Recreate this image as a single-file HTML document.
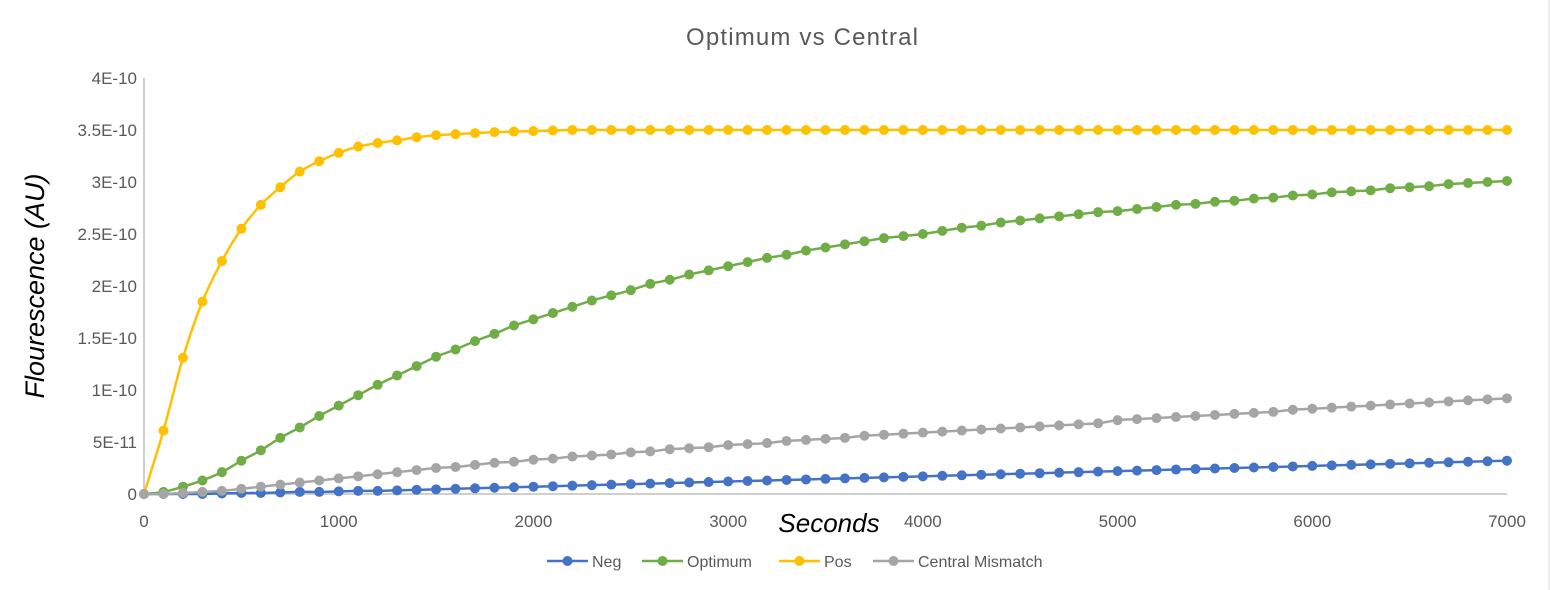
<!DOCTYPE html>
<html><head><meta charset="utf-8"><style>
body{margin:0;width:1550px;height:590px;background:#fff;overflow:hidden}
svg{display:block;font-family:"Liberation Sans",sans-serif}
</style></head><body>
<svg id="chart" width="1550" height="590">
<line x1="1549" y1="0" x2="1549" y2="590" stroke="#d9d9d9"/>
<text x="686" y="45" textLength="232" font-size="24" fill="#595959">Optimum vs Central</text>
<text transform="translate(44,286) rotate(-90)" text-anchor="middle" font-size="27" font-style="italic" fill="#000">Flourescence (AU)</text>
<text x="829" y="532" text-anchor="middle" font-size="26" font-style="italic" fill="#000">Seconds</text>
<g id="axes"></g>
<g id="series"></g>
<g id="legend"></g>
</svg>
<script>
const xTicks=[0,1000,2000,3000,4000,5000,6000,7000];
const yTicks=[0,0.5,1,1.5,2,2.5,3,3.5,4];
const yTickLabels=["0","5E-11","1E-10","1.5E-10","2E-10","2.5E-10","3E-10","3.5E-10","4E-10"];
const seriesNames=["Neg","Optimum","Pos","Central Mismatch"];
const seriesColors=["#4472C4","#70AD47","#FFC000","#A5A5A5"];
const negValues=[0,0,0,0,0.005,0.01,0.01,0.015,0.02,0.02,0.025,0.03,0.03,0.035,0.04,0.045,0.05,0.055,0.06,0.065,0.07,0.075,0.08,0.085,0.09,0.095,0.10,0.105,0.11,0.115,0.12,0.125,0.13,0.135,0.14,0.145,0.15,0.155,0.16,0.165,0.17,0.175,0.18,0.185,0.19,0.195,0.20,0.205,0.21,0.215,0.22,0.225,0.23,0.235,0.24,0.245,0.25,0.255,0.26,0.265,0.27,0.275,0.28,0.285,0.29,0.295,0.30,0.305,0.31,0.315,0.32];
const optimumValues=[0,0.02,0.07,0.13,0.21,0.32,0.42,0.54,0.64,0.75,0.85,0.95,1.05,1.14,1.23,1.32,1.39,1.47,1.54,1.62,1.68,1.74,1.80,1.86,1.91,1.96,2.02,2.06,2.11,2.15,2.19,2.23,2.27,2.30,2.34,2.37,2.40,2.43,2.46,2.48,2.50,2.53,2.56,2.58,2.61,2.63,2.65,2.67,2.69,2.71,2.72,2.74,2.76,2.78,2.79,2.81,2.82,2.84,2.85,2.87,2.88,2.90,2.91,2.92,2.94,2.95,2.96,2.98,2.99,3.00,3.01];
const posValues=[0,0.61,1.31,1.85,2.24,2.55,2.78,2.95,3.10,3.20,3.28,3.34,3.375,3.40,3.43,3.45,3.46,3.47,3.48,3.485,3.49,3.495,3.5,3.5,3.5,3.5,3.5,3.5,3.5,3.5,3.5,3.5,3.5,3.5,3.5,3.5,3.5,3.5,3.5,3.5,3.5,3.5,3.5,3.5,3.5,3.5,3.5,3.5,3.5,3.5,3.5,3.5,3.5,3.5,3.5,3.5,3.5,3.5,3.5,3.5,3.5,3.5,3.5,3.5,3.5,3.5,3.5,3.5,3.5,3.5,3.5];
const centralValues=[0,0,0.01,0.02,0.03,0.05,0.07,0.09,0.11,0.13,0.15,0.17,0.19,0.21,0.23,0.25,0.26,0.28,0.30,0.31,0.33,0.34,0.36,0.37,0.38,0.40,0.41,0.43,0.44,0.45,0.47,0.48,0.49,0.51,0.52,0.53,0.54,0.56,0.57,0.58,0.59,0.60,0.61,0.62,0.63,0.64,0.65,0.66,0.67,0.68,0.71,0.72,0.73,0.74,0.75,0.76,0.77,0.78,0.79,0.81,0.82,0.83,0.84,0.85,0.86,0.87,0.88,0.89,0.90,0.91,0.92];
const xStep=100;

const NS="http://www.w3.org/2000/svg";
const X0=144,X1=1507,Y0=494,Y1=78;
const xs=v=>X0+(v/7000)*(X1-X0);
const ys=v=>Y0-(v/4)*(Y0-Y1);
function mk(t,a,p){const e=document.createElementNS(NS,t);for(const k in a)e.setAttribute(k,a[k]);p.appendChild(e);return e;}
const axes=document.getElementById('axes');
let yl=mk('line',{x1:X0,y1:Y1,x2:X0,y2:Y0,stroke:'#bfbfbf','stroke-width':1.5},axes);


let xl=mk('line',{x1:X0,y1:Y0,x2:X1,y2:Y0,stroke:'#bfbfbf','stroke-width':1.5},axes);


yTicks.forEach((v,i)=>{const t=mk('text',{x:137,y:ys(v)+6,'text-anchor':'end','font-size':17,fill:'#595959'},axes);t.textContent=yTickLabels[i];

});
xTicks.forEach(v=>{const t=mk('text',{x:xs(v),y:527,'text-anchor':'middle','font-size':17,fill:'#595959'},axes);t.textContent=String(v);

});
function path(pts){let d=`M${pts[0][0]},${pts[0][1]}`;for(let i=0;i<pts.length-1;i++){const p0=pts[i-1]||pts[i],p1=pts[i],p2=pts[i+1],p3=pts[i+2]||p2;const c1=[p1[0]+(p2[0]-p0[0])/6,p1[1]+(p2[1]-p0[1])/6],c2=[p2[0]-(p3[0]-p1[0])/6,p2[1]-(p3[1]-p1[1])/6];d+=` C${c1[0]},${c1[1]} ${c2[0]},${c2[1]} ${p2[0]},${p2[1]}`;}return d;}
const sg=document.getElementById('series');
[negValues,optimumValues,posValues,centralValues].forEach((vals,si)=>{
 const g=mk('g',{},sg);
 
 
 const pts=vals.map((v,i)=>[xs(i*xStep),ys(v)]);
 mk('path',{d:path(pts),fill:'none',stroke:seriesColors[si],'stroke-width':2.5},g);
 pts.forEach(p=>{const c=mk('circle',{cx:p[0],cy:p[1],r:5,fill:seriesColors[si]},g);
 
 });
});
const lg=document.getElementById('legend');
const lx=[547,642,779,873];
seriesNames.forEach((n,i)=>{const g=mk('g',{},lg);
 
 
 mk('line',{x1:lx[i],y1:561,x2:lx[i]+41,y2:561,stroke:seriesColors[i],'stroke-width':2.5},g);
 mk('circle',{cx:lx[i]+20.5,cy:561,r:5,fill:seriesColors[i]},g);
 const t=mk('text',{x:lx[i]+45,y:567,'font-size':16,fill:'#595959'},g);t.textContent=n;});
</script>
</body></html>
